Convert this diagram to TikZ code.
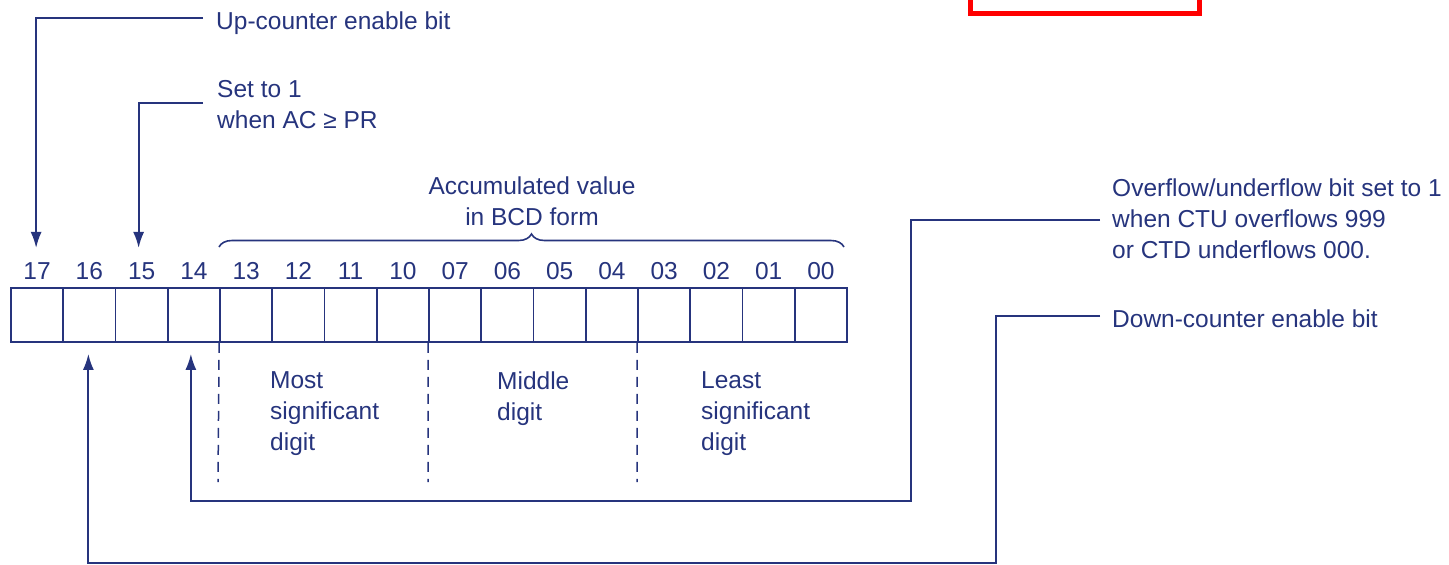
\documentclass[tikz,border=0pt]{standalone}
\usepackage{fontspec}
\setmainfont{Liberation Sans}
\usetikzlibrary{arrows.meta,decorations.pathreplacing}
\definecolor{navy}{RGB}{38,52,125}
\begin{document}
\begin{tikzpicture}[x=1pt,y=-1pt,
  lbl/.style={text=navy, font=\fontsize{24.5}{31}\selectfont, inner sep=0pt},
  txt/.style={lbl, anchor=base west, align=left},
  cell/.style={draw=navy, line width=1.8pt, minimum width=52.25pt, minimum height=54pt, inner sep=0pt},
  conn/.style={draw=navy, line width=1.8pt},
  arr/.style={conn, -{Latex[length=16pt,width=11pt]}},
  dashline/.style={draw=navy, line width=1.5pt, dash pattern=on 10pt off 7pt},
  bracestyle/.style={draw=navy, line width=1.6pt, decorate, decoration={brace, amplitude=13pt}}
]
\useasboundingbox (0,0) rectangle (1449,565);

% register
\foreach \b [count=\i from 0] in {17,16,15,14,13,12,11,10,07,06,05,04,03,02,01,00} {
  \node[cell] (c\b) at ({11+52.25*(\i+0.5)},315) {};
  \node[lbl, anchor=base] (l\b) at ({11+52.25*(\i+0.5)},279) {\b};
}

% brace and its label (base = baseline of last line)
\coordinate (bl) at (219,247);
\coordinate (br) at (844,247);
\draw[bracestyle] (bl) -- (br);
\node[lbl, anchor=base, align=center] (acc) at (532,225) {Accumulated value\\in BCD form};

% dashed digit separators
\coordinate (d1) at (218,482);
\coordinate (d2) at (428,482);
\coordinate (d3) at (637,482);
\draw[dashline] (c13.south west) -- (d1);
\draw[dashline] (c07.south west) -- (d2);
\draw[dashline] (c03.south west) -- (d3);

% digit labels
\node[txt] (most) at (270,450) {Most\\significant\\digit};
\node[txt] (mid) at (497,420) {Middle\\digit};
\node[txt] (least) at (701,450) {Least\\significant\\digit};

% top-left labels and arrows
\node[txt] (t17) at (216,29) {Up-counter enable bit};
\node[txt] (t15) at (217,128) {Set to 1\\when AC ≥ PR};
\draw[arr] ([shift={(-13,-11)}]t17.base west) -| ([shift={(-1,-14)}]l17.north);
\draw[arr] ([shift={(-14,-25)}]t15.base west) -| ([shift={(-3,-14)}]l15.north);

% right labels and return arrows
\node[txt] (t14) at (1112,258) {Overflow/underflow bit set to 1\\when CTU overflows 999\\or CTD underflows 000.};
\node[txt] (t16) at (1112,327) {Down-counter enable bit};
\coordinate (k14) at (911,501);
\coordinate (k16) at (996,563);
\draw[arr] ([shift={(-12,-38)}]t14.base west) -| (k14) -| ([shift={(-3,11)}]c14.south);
\draw[arr] ([shift={(-12,-11)}]t16.base west) -| (k16) -| ([shift={(-1,11)}]c16.south);

% red marker rectangle
\draw[red, line width=5pt] (970,-10) rectangle (1199,13);
\end{tikzpicture}
\end{document}
